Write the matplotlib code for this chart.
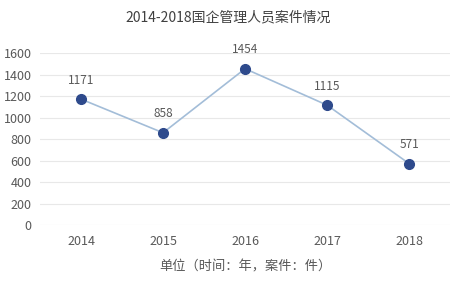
import matplotlib.pyplot as plt

plt.rcParams['font.family'] = ['Noto Sans CJK SC', 'DejaVu Sans']

years = ['2014', '2015', '2016', '2017', '2018']
cases = [1171, 858, 1454, 1115, 571]
yticks = [0, 200, 400, 600, 800, 1000, 1200, 1400, 1600]

txt = '#595959'

fig = plt.figure(figsize=(4.57, 2.85), dpi=100)
ax = fig.add_axes([0.0875, 0.2105, 0.8975, 0.6035])

x = range(len(years))
ax.plot(x, cases, color='#a3bdd8', lw=1.2, zorder=2)
ax.plot(x, cases, 'o', color='#2e4a8c', ms=7, zorder=3, clip_on=False)
for i, v in zip(x, cases):
    ax.annotate(str(v), (i, v), xytext=(0, 9), textcoords='offset points',
                ha='center', va='bottom', fontsize=8.5, color=txt)

ax.set_xlim(-0.5, len(years) - 0.5)
ax.set_ylim(0, 1600)
ax.set_yticks(yticks)
ax.set_xticks(list(x))
ax.set_xticklabels(years)
ax.grid(axis='y', color='#e8e8e8', lw=0.8)
ax.set_axisbelow(True)
for s in ax.spines.values():
    s.set_visible(False)
ax.tick_params(length=0, labelsize=9, colors=txt)
ax.tick_params(axis='x', pad=7)
ax.tick_params(axis='y', pad=6)

ax.set_xlabel('单位（时间：年，案件：件）', fontsize=9.5, color=txt, labelpad=9)
fig.text(0.5, 0.94, '2014-2018国企管理人员案件情况', ha='center', va='center',
         fontsize=10, color='#404040')

fig.savefig('out.png', dpi=100)
